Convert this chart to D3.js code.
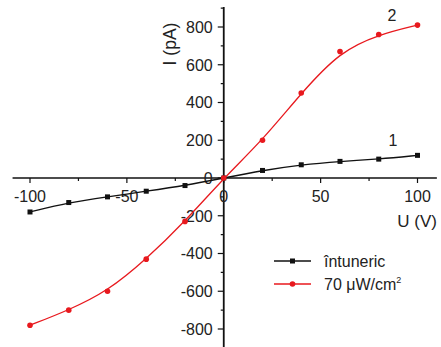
<!DOCTYPE html>
<html><head><meta charset="utf-8">
<script src="https://cdn.jsdelivr.net/npm/d3@7"></script>
<style>
html,body{margin:0;padding:0;background:#fff;}
svg{display:block;font-family:"Liberation Sans",Arial,sans-serif;}
</style></head>
<body>
<svg id="chart" width="441" height="347"></svg>
<script>
const voltages = [-100, -80, -60, -40, -20, 0, 20, 40, 60, 80, 100];
const darkCurrent = [-180, -130, -100, -70, -40, 0, 40, 70, 88, 100, 120];
const lightCurrent = [-780, -700, -600, -430, -230, 0, 200, 450, 670, 760, 810];
const xTicks = [-100, -50, 0, 50, 100];
const xMinor = [-75, -25, 25, 75];
const yTicks = [-800, -600, -400, -200, 0, 200, 400, 600, 800];
const yMinor = [-700, -500, -300, -100, 100, 300, 500, 700, 900];
const seriesNames = ["întuneric", "70 μW/cm²"];

const svg = d3.select("#chart");
const x = d3.scaleLinear().domain([-100, 100]).range([30, 417.5]);
const y = d3.scaleLinear().domain([-800, 800]).range([329, 27]);
const x0 = x(0), y0 = y(0);
const textCol = "#222";

// axes lines
svg.append("line").attr("x1", x(-109)).attr("x2", x(110)).attr("y1", y0).attr("y2", y0)
  .attr("stroke", "#111").attr("stroke-width", 1.6);
svg.append("line").attr("x1", x0).attr("x2", x0).attr("y1", y(906)).attr("y2", 347)
  .attr("stroke", "#111").attr("stroke-width", 1.8);

// x ticks
const xg = svg.append("g");
xTicks.forEach(v => {
  xg.append("line").attr("x1", x(v)).attr("x2", x(v)).attr("y1", y0).attr("y2", y0 + 5)
    .attr("stroke", "#111").attr("stroke-width", 1.2);
  xg.append("text").attr("x", x(v)).attr("y", y0 + 23.7).attr("text-anchor", "middle")
    .attr("font-size", 16).attr("fill", textCol).text(String(v));
});
xMinor.forEach(v => {
  xg.append("line").attr("x1", x(v)).attr("x2", x(v)).attr("y1", y0).attr("y2", y0 + 3)
    .attr("stroke", "#111").attr("stroke-width", 1.2);
});
// y ticks
const yg = svg.append("g");
yTicks.forEach(v => {
  yg.append("line").attr("x1", x0 - 6).attr("x2", x0).attr("y1", y(v)).attr("y2", y(v))
    .attr("stroke", "#111").attr("stroke-width", 1.2);
  yg.append("text").attr("x", x0 - 11).attr("y", y(v) + 5.8).attr("text-anchor", "end")
    .attr("font-size", 16).attr("fill", textCol).text(String(v));
});
yMinor.forEach(v => {
  yg.append("line").attr("x1", x0 - 3).attr("x2", x0).attr("y1", y(v)).attr("y2", y(v))
    .attr("stroke", "#111").attr("stroke-width", 1.2);
});

// axis titles
svg.append("text").attr("transform", `translate(176,44) rotate(-90)`).attr("text-anchor", "middle")
  .attr("font-size", 17.5).attr("fill", textCol).text("I (pA)");
svg.append("text").attr("x", 437).attr("y", 226.5).attr("text-anchor", "end")
  .attr("font-size", 17).attr("fill", textCol).text("U (V)");

// series
const line = d3.line().x(d => x(d[0])).y(d => y(d[1])).curve(d3.curveBasis);
const dark = voltages.map((v, i) => [v, darkCurrent[i]]);
const light = voltages.map((v, i) => [v, lightCurrent[i]]);

svg.append("path").datum(dark).attr("d", line).attr("fill", "none")
  .attr("stroke", "#111").attr("stroke-width", 1.3);
svg.append("g").selectAll("rect").data(dark).join("rect")
  .attr("x", d => x(d[0]) - 2.5).attr("y", d => y(d[1]) - 2.5).attr("width", 5).attr("height", 5)
  .attr("fill", "#111");

svg.append("path").datum(light).attr("d", line).attr("fill", "none")
  .attr("stroke", "#e8191e").attr("stroke-width", 1.3);
svg.append("g").selectAll("circle").data(light).join("circle")
  .attr("cx", d => x(d[0])).attr("cy", d => y(d[1])).attr("r", 2.8)
  .attr("fill", "#e8191e");

// curve labels
svg.append("text").attr("x", 392).attr("y", 21).attr("text-anchor", "middle")
  .attr("font-size", 16).attr("fill", textCol).text("2");
svg.append("text").attr("x", 393).attr("y", 146).attr("text-anchor", "middle")
  .attr("font-size", 16).attr("fill", textCol).text("1");

// legend
const leg = svg.append("g");
const legY = [261, 284];
const legCol = ["#111", "#e8191e"];
legY.forEach((ly, i) => {
  leg.append("line").attr("x1", 274).attr("x2", 311).attr("y1", ly).attr("y2", ly)
    .attr("stroke", legCol[i]).attr("stroke-width", 1.3);
  if (i === 0) leg.append("rect").attr("x", 290).attr("y", ly - 2.5).attr("width", 5).attr("height", 5).attr("fill", legCol[i]);
  else leg.append("circle").attr("cx", 292.5).attr("cy", ly).attr("r", 2.8).attr("fill", legCol[i]);
});
leg.append("text").attr("x", 324).attr("y", 266.5).attr("font-size", 16).attr("fill", textCol).text(seriesNames[0]);
const t2 = leg.append("text").attr("x", 324).attr("y", 290).attr("font-size", 16).attr("fill", textCol);
t2.append("tspan").text("70 μW/cm");
t2.append("tspan").attr("font-size", 9).attr("dy", -7).text("2");
</script>
</body></html>
